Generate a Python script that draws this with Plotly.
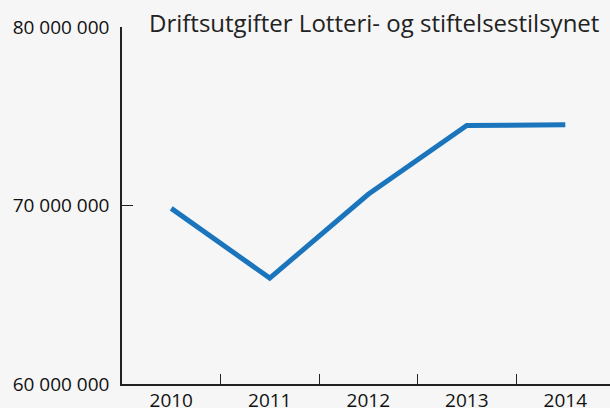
import plotly.graph_objects as go

years = ["2010", "2011", "2012", "2013", "2014"]
expenses = [69840000, 65930000, 70630000, 74480000, 74520000]
y_ticks = [60000000, 70000000, 80000000]
title_text = "Driftsutgifter Lotteri- og stiftelsestilsynet"

fig = go.Figure()
fig.add_trace(go.Scatter(
    x=years, y=expenses, mode="lines",
    line=dict(color="#1B75BC", width=5),
    hoverinfo="skip",
))

fig.update_layout(
    width=610, height=408,
    margin=dict(l=122, r=0, t=27, b=24, autoexpand=False),
    paper_bgcolor="#f6f6f6",
    plot_bgcolor="#f6f6f6",
    separators=", ",
    showlegend=False,
    font=dict(family="Open Sans", color="#111111"),
    title=dict(
        text=title_text,
        xref="container", yref="container",
        x=149/610, xanchor="left",
        y=1-24/408, yanchor="middle",
        font=dict(family="Open Sans", size=24, color="#222222"),
    ),
)

fig.update_xaxes(
    type="category",
    range=[-0.5, 4.454],
    automargin=False,
    showgrid=False, zeroline=False,
    showline=True, linecolor="#222222", linewidth=1.5,
    ticks="inside", ticklen=10, tickcolor="#222222", tickwidth=1.2,
    tickson="boundaries",
    ticklabelstandoff=-2,
    tickfont=dict(size=19, color="#111111"),
)

fig.update_yaxes(
    range=[60000000, 80000000],
    automargin=False,
    tickvals=y_ticks, tickformat=",d",
    showgrid=False, zeroline=False,
    showline=True, linecolor="#222222", linewidth=1.5,
    ticks="inside", ticklen=11, tickcolor="#222222", tickwidth=1.2,
    ticklabelstandoff=7,
    tickfont=dict(size=19, color="#111111"),
)

fig.write_html(
    "out.html",
    config={"displayModeBar": False},
    post_script="document.body.style.margin='0';document.body.style.background='#f6f6f6';",
)
